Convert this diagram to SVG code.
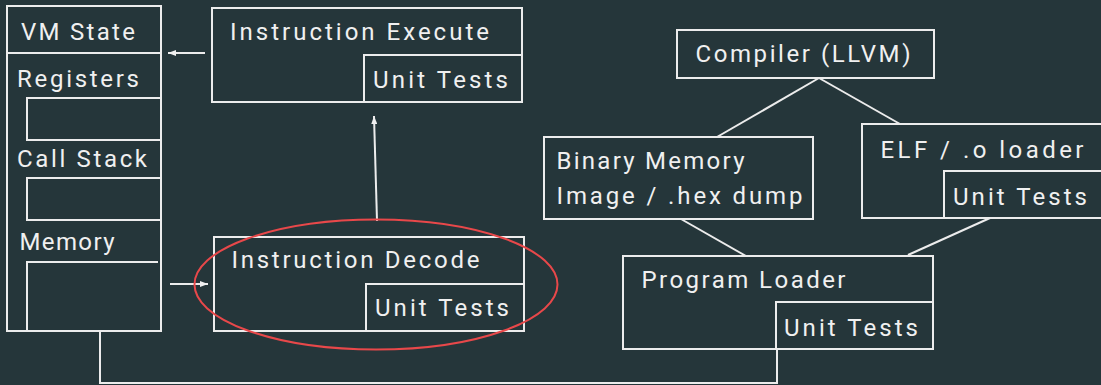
<svg xmlns="http://www.w3.org/2000/svg" width="1101" height="385" viewBox="0 0 1101 385">
<defs>
<marker id="arr" viewBox="0 0 8 6" refX="8" refY="3" markerWidth="8" markerHeight="6" markerUnits="userSpaceOnUse" orient="auto">
<path d="M0,0 L8,3 L0,6 z" fill="#f0f0f0"/>
</marker>
<style>
.box{fill:none;stroke:#ececec;stroke-width:2}
.ln{fill:none;stroke:#ececec;stroke-width:2}
.t{font-family:Roboto,"Liberation Sans",sans-serif;font-size:24px;fill:#f0f0f0}
</style>
</defs>
<rect x="0" y="0" width="1101" height="385" fill="#25363a"/>

<g id="connectors">
<line class="ln" x1="205" y1="53" x2="168" y2="53" marker-end="url(#arr)"/>
<line class="ln" x1="170" y1="284" x2="208" y2="284" marker-end="url(#arr)"/>
<line class="ln" x1="377" y1="221" x2="374" y2="116" marker-end="url(#arr)"/>
<line class="ln" x1="819" y1="78" x2="717" y2="137"/>
<line class="ln" x1="819" y1="78" x2="900" y2="124"/>
<line class="ln" x1="681" y1="219" x2="746" y2="256"/>
<line class="ln" x1="990" y1="218" x2="908" y2="255"/>
<path class="ln" d="M100,331 V383 H777 V349"/>
</g>

<g id="vm-state">
<rect class="box" x="7" y="6" width="154" height="325"/>
<line class="ln" x1="7" y1="53" x2="161" y2="53"/>
<text class="t" x="21" y="39.5" textLength="114">VM State</text>
<text class="t" x="17" y="87" textLength="122">Registers</text>
<rect class="box" x="27" y="98" width="134" height="42"/>
<text class="t" x="17" y="167" textLength="130">Call Stack</text>
<rect class="box" x="27" y="178" width="134" height="42"/>
<text class="t" x="19.5" y="250" textLength="95">Memory</text>
<path class="ln" d="M27,331 V262 H158"/>
</g>

<g id="instruction-execute">
<rect class="box" x="212" y="8" width="310" height="94"/>
<text class="t" x="230" y="40" textLength="259">Instruction Execute</text>
<rect class="box" x="364" y="55" width="158" height="47"/>
<text class="t" x="373" y="88" textLength="135">Unit Tests</text>
</g>

<g id="instruction-decode">
<rect class="box" x="214" y="237" width="310" height="94"/>
<text class="t" x="231.5" y="268" textLength="248">Instruction Decode</text>
<rect class="box" x="366" y="284" width="158" height="47"/>
<text class="t" x="375" y="316" textLength="134">Unit Tests</text>
</g>

<ellipse cx="376" cy="284.5" rx="181.5" ry="65" fill="none" stroke="#e8484a" stroke-width="2"/>

<g id="compiler">
<rect class="box" x="677" y="30" width="257" height="48"/>
<text class="t" x="695.5" y="61.5" textLength="215">Compiler (LLVM)</text>
</g>

<g id="binary-memory">
<rect class="box" x="544" y="137" width="269" height="82"/>
<text class="t" x="556.5" y="168.5" textLength="188">Binary Memory</text>
<text class="t" x="556.5" y="203.5" textLength="246">Image / .hex dump</text>
</g>

<g id="elf-loader">
<rect class="box" x="862" y="124" width="245" height="94"/>
<text class="t" x="880.5" y="157.5" textLength="203">ELF / .o loader</text>
<rect class="box" x="944" y="171" width="163" height="47"/>
<text class="t" x="953" y="205" textLength="134">Unit Tests</text>
</g>

<g id="program-loader">
<rect class="box" x="623" y="256" width="310" height="93"/>
<text class="t" x="641.5" y="287.5" textLength="204">Program Loader</text>
<rect class="box" x="776" y="302" width="157" height="47"/>
<text class="t" x="784" y="336" textLength="134">Unit Tests</text>
</g>
</svg>
